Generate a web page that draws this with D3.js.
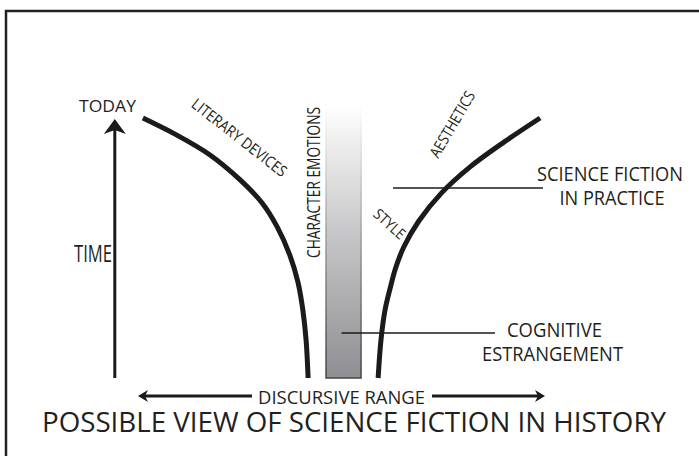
<!DOCTYPE html>
<html>
<head>
<meta charset="utf-8">
<script src="https://cdn.jsdelivr.net/npm/d3@7"></script>
<style>
  body { margin: 0; background: #fff; }
  text { font-family: 'Open Sans', sans-serif; fill: #231f20; }
</style>
</head>
<body>
<div id="vis"></div>
<script>
// discursive range runs -50..50 (0 = centre of the estrangement bar), time runs 0..100 (100 = today)
let rangeExtent = [-50, 50]
let timeExtent = [0, 100]

// left curve (literary devices / character emotions side)
let literaryCurve = [
  [-48.8, 100], [-40.9, 93.8], [-32.3, 85.8], [-24.9, 76.2], [-19.5, 67.3],
  [-15.8, 58.1], [-12.7, 47.3], [-10.7, 36.9], [-9.5, 26.2], [-8.7, 14.6], [-8.2, 0]
]
// right curve (style / aesthetics side)
let aestheticCurve = [
  [9.0, 0], [9.7, 14.6], [10.7, 26.2], [11.9, 34.2], [13.3, 42.3], [15.3, 50.4],
  [19.0, 60.4], [24.6, 71.2], [31.6, 81.2], [40.0, 90.8], [48.8, 100]
]
// cognitive estrangement bar
let barRange = [-3.8, 4.8]
let barTime = [0, 105]

let curveLabels = ['LITERARY DEVICES', 'CHARACTER EMOTIONS', 'STYLE', 'AESTHETICS']
let calloutLabels = [['SCIENCE FICTION', 'IN PRACTICE'], ['COGNITIVE', 'ESTRANGEMENT']]
let axisLabels = ['TODAY', 'TIME', 'DISCURSIVE RANGE']
let title = 'POSSIBLE VIEW OF SCIENCE FICTION IN HISTORY'

let width = 699, height = 456

let svg = d3.select('#vis')
  .append('svg')
  .attr('width', width)
  .attr('height', height)

let xScale = d3.scaleLinear().domain(rangeExtent).range([138, 545])
let yScale = d3.scaleLinear().domain(timeExtent).range([378, 118])

// frame (runs off the right and bottom edge)
svg.append('rect')
  .attr('x', 6).attr('y', 11)
  .attr('width', width + 20).attr('height', height + 20)
  .attr('fill', 'none')
  .attr('stroke', '#222')
  .attr('stroke-width', 2.5)

// gradients for the bar
let defs = svg.append('defs')
let fillGrad = defs.append('linearGradient')
  .attr('id', 'barFill').attr('x1', 0).attr('y1', 0).attr('x2', 0).attr('y2', 1)
fillGrad.append('stop').attr('offset', 0).attr('stop-color', '#ffffff')
fillGrad.append('stop').attr('offset', 0.45).attr('stop-color', '#c9c9cb')
fillGrad.append('stop').attr('offset', 1).attr('stop-color', '#8f8f93')
let strokeGrad = defs.append('linearGradient')
  .attr('id', 'barStroke').attr('x1', 0).attr('y1', 0).attr('x2', 0).attr('y2', 1)
strokeGrad.append('stop').attr('offset', 0).attr('stop-color', '#ffffff')
strokeGrad.append('stop').attr('offset', 0.5).attr('stop-color', '#9a9a9a')
strokeGrad.append('stop').attr('offset', 1).attr('stop-color', '#444')

svg.append('rect')
  .attr('x', xScale(barRange[0]))
  .attr('y', yScale(barTime[1]))
  .attr('width', xScale(barRange[1]) - xScale(barRange[0]))
  .attr('height', yScale(barTime[0]) - yScale(barTime[1]))
  .attr('fill', 'url(#barFill)')
  .attr('stroke', 'url(#barStroke)')
  .attr('stroke-width', 1.5)

// curves
let line = d3.line()
  .x(function (d) { return xScale(d[0]) })
  .y(function (d) { return yScale(d[1]) })
  .curve(d3.curveCatmullRom.alpha(0.5))

svg.selectAll('.curve')
  .data([literaryCurve, aestheticCurve])
  .enter()
  .append('path')
    .attr('class', 'curve')
    .attr('d', line)
    .attr('fill', 'none')
    .attr('stroke', '#1b1b1b')
    .attr('stroke-width', 5)

// callout lines
svg.append('line')
  .attr('x1', 393).attr('x2', 543)
  .attr('y1', 188).attr('y2', 188)
  .attr('stroke', '#1b1b1b').attr('stroke-width', 1.5)
svg.append('line')
  .attr('x1', xScale(0)).attr('x2', 495)
  .attr('y1', 333).attr('y2', 333)
  .attr('stroke', '#1b1b1b').attr('stroke-width', 1.5)

// time axis arrow
let ax = xScale(-55.7)
svg.append('line')
  .attr('x1', ax).attr('x2', ax)
  .attr('y1', yScale(0)).attr('y2', yScale(100) + 12)
  .attr('stroke', '#1b1b1b').attr('stroke-width', 3)
svg.append('path')
  .attr('d', 'M' + ax + ',' + (yScale(100) + 1) + ' l11,15 l-11,-4 l-11,4 z')
  .attr('fill', '#1b1b1b')

// discursive range arrow
let ay = 396
svg.append('line')
  .attr('x1', xScale(-50) + 6).attr('x2', 252)
  .attr('y1', ay).attr('y2', ay)
  .attr('stroke', '#1b1b1b').attr('stroke-width', 3)
svg.append('line')
  .attr('x1', 432).attr('x2', xScale(50) - 6)
  .attr('y1', ay).attr('y2', ay)
  .attr('stroke', '#1b1b1b').attr('stroke-width', 3)
svg.append('path')
  .attr('d', 'M' + xScale(-50) + ',' + ay + ' l10,-6 l-3,6 l3,6 z')
  .attr('fill', '#1b1b1b')
svg.append('path')
  .attr('d', 'M' + xScale(50) + ',' + ay + ' l-10,-6 l3,6 l-3,6 z')
  .attr('fill', '#1b1b1b')

// helper for text fitted to a measured width
function label(str, x, y, size, len, angle, anchor) {
  let t = svg.append('text')
    .attr('transform', 'translate(' + x + ',' + y + ') rotate(' + (angle || 0) + ')')
    .attr('text-anchor', anchor || 'middle')
    .style('font-size', size + 'px')
    .text(str)
  if (len) t.attr('textLength', len).attr('lengthAdjust', 'spacingAndGlyphs')
  return t
}

label(axisLabels[0], 107.5, 112, 17, 57)
label(axisLabels[1], 93, 262, 23, 38)
label(axisLabels[2], 341.5, 404, 18, 167)

label(curveLabels[0], 236, 142, 15.5, 116, 38)
label(curveLabels[1], 320, 182.5, 18, 151, -90)
label(curveLabels[2], 386, 228, 15, 37, 42)
label(curveLabels[3], 457, 127, 15.5, 74, -59.5)

label(calloutLabels[0][0], 610, 181, 20, 146)
label(calloutLabels[0][1], 612, 205, 20, 105)
label(calloutLabels[1][0], 554.5, 337, 20, 95)
label(calloutLabels[1][1], 552.5, 361, 20, 141)

label(title, 354, 432, 28, 624)
</script>
</body>
</html>
